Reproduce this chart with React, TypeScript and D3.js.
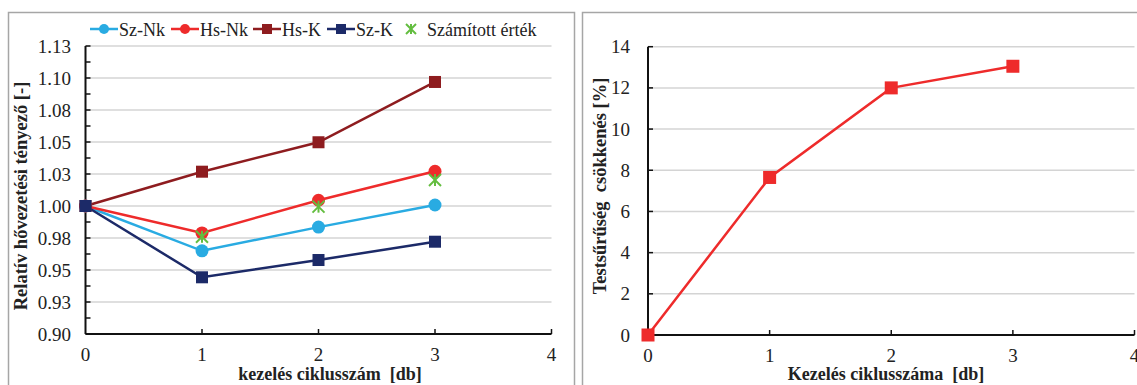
import * as d3 from "d3";

// left chart: relative thermal conductivity
const cycles = [0, 1, 2, 3];
const szNk = [1.0, 0.965, 0.9835, 1.0008];
const hsNk = [1.0, 0.979, 1.0045, 1.0271];
const hsK = [1.0, 1.0268, 1.0498, 1.0969];
const szK = [1.0, 0.9443, 0.9578, 0.9721];
const calcCycles = [1, 2, 3];
const calcValues = [0.976, 0.9995, 1.0203];
const yTicksL = [0.9, 0.925, 0.95, 0.975, 1.0, 1.025, 1.05, 1.075, 1.1, 1.125];
const yTickLabelsL = ["0.90", "0.93", "0.95", "0.98", "1.00", "1.03", "1.05", "1.08", "1.10", "1.13"];
const xTicks = [0, 1, 2, 3, 4];

// right chart: density decrease
const densityDecrease = [0, 7.65, 12.0, 13.05];
const yTicksR = [0, 2, 4, 6, 8, 10, 12, 14];

const serif = "'Liberation Serif', 'Times New Roman', 'DejaVu Serif', serif";
const GRID = "#d4d4d4";
const FRAME = "#a6a6a6";
const INK = "#222";

const seriesL = [
  { name: "Sz-Nk", values: szNk, color: "#29abe2", marker: "circle" },
  { name: "Hs-Nk", values: hsNk, color: "#ee2b2b", marker: "circle" },
  { name: "Hs-K", values: hsK, color: "#8e1c1f", marker: "square" },
  { name: "Sz-K", values: szK, color: "#1c2a68", marker: "square" },
];
const calcName = "Számított érték";
const calcColor = "#63bd3f";

function Marker({ x, y, type, color, size }: { x: number; y: number; type: string; color: string; size: number }) {
  if (type === "circle") return <circle cx={x} cy={y} r={size / 2} fill={color} />;
  if (type === "square") return <rect x={x - size / 2} y={y - size / 2} width={size} height={size} fill={color} />;
  const h = size / 2;
  return (
    <g stroke={color} strokeWidth={2}>
      <line x1={x - h} y1={y - h} x2={x + h} y2={y + h} />
      <line x1={x - h} y1={y + h} x2={x + h} y2={y - h} />
      <line x1={x} y1={y - h} x2={x} y2={y + h} />
    </g>
  );
}

function Txt(props: any) {
  const { children, size = 19, bold = false, style, ...rest } = props;
  return (
    <text
      fill={INK}
      {...rest}
      style={{ fontFamily: serif, fontSize: size, fontWeight: bold ? "bold" : "normal", whiteSpace: "pre", ...style }}
    >
      {children}
    </text>
  );
}

function gridLines(ticks: number[], y: d3.ScaleLinear<number, number>, x0: number, x1: number) {
  return ticks
    .filter((t) => t !== ticks[0])
    .map((t) => <line key={"g" + t} x1={x0} x2={x1} y1={y(t)} y2={y(t)} stroke={GRID} strokeWidth={1.5} />);
}

function xAxis(ticks: number[], x: d3.ScaleLinear<number, number>, y0: number) {
  return (
    <g>
      <line x1={x(ticks[0])} x2={x(ticks[ticks.length - 1])} y1={y0} y2={y0} stroke="#111" strokeWidth={2} />
      {ticks.map((t) => (
        <g key={t}>
          {t !== 0 && <line x1={x(t)} x2={x(t)} y1={y0} y2={y0 - 5} stroke="#111" strokeWidth={1.5} />}
          <Txt x={x(t)} y={y0 + 27} textAnchor="middle">
            {t}
          </Txt>
        </g>
      ))}
    </g>
  );
}

function LeftChart() {
  const x = d3.scaleLinear().domain([0, 4]).range([85.5, 551.5]);
  const y = d3.scaleLinear().domain([0.9, 1.125]).range([334, 46]);
  const minor = d3.range(0.9125, 1.125, 0.025);
  const line = d3
    .line<number>()
    .x((_, i) => x(cycles[i]))
    .y((d) => y(d));
  const legendX = [90, 171, 253, 327];

  return (
    <g>
      <rect x={8.5} y={12.5} width={566} height={390} fill="none" stroke={FRAME} strokeWidth={1.5} />
      {gridLines(yTicksL, y, x(0), x(4))}
      {minor.map((v) => (
        <line key={v} x1={x(0)} x2={x(0) + 5} y1={y(v)} y2={y(v)} stroke="#111" strokeWidth={1.5} />
      ))}
      {yTicksL.map((v, i) => (
        <g key={v}>
          <line x1={x(0)} x2={x(0) + 5} y1={y(v)} y2={y(v)} stroke="#111" strokeWidth={1.5} />
          <Txt x={71} y={y(v) + 6.5} textAnchor="end">
            {yTickLabelsL[i]}
          </Txt>
        </g>
      ))}
      {xAxis(xTicks, x, y(0.9))}
      <line x1={x(0)} x2={x(0)} y1={y(1.125)} y2={y(0.9)} stroke="#111" strokeWidth={2} />
      {seriesL.map((s) => (
        <path key={s.name} d={line(s.values) || ""} fill="none" stroke={s.color} strokeWidth={2.5} />
      ))}
      {seriesL.map((s) => (
        <g key={s.name}>
          {s.values.map((v, i) => (
            <Marker key={i} x={x(cycles[i])} y={y(v)} type={s.marker} color={s.color} size={s.marker === "circle" ? 13 : 12} />
          ))}
        </g>
      ))}
      {calcValues.map((v, i) => (
        <Marker key={i} x={x(calcCycles[i])} y={y(v)} type="star" color={calcColor} size={12} />
      ))}
      {/* legend */}
      {seriesL.map((s, i) => (
        <g key={s.name}>
          <line x1={legendX[i]} x2={legendX[i] + 28} y1={29} y2={29} stroke={s.color} strokeWidth={2.5} />
          <Marker x={legendX[i] + 14} y={29} type={s.marker} color={s.color} size={10} />
          <Txt x={legendX[i] + 29} y={35.5} size={18}>
            {s.name}
          </Txt>
        </g>
      ))}
      <Marker x={411} y={29} type="star" color={calcColor} size={10} />
      <Txt x={427} y={35.5} size={18}>
        {calcName}
      </Txt>
      <Txt x={330} y={380} textAnchor="middle" size={18} bold>
        {"kezelés ciklusszám  [db]"}
      </Txt>
      <Txt transform={`translate(27,196) rotate(-90)`} textAnchor="middle" size={18.5} bold>
        Relatív hővezetési tényező [-]
      </Txt>
    </g>
  );
}

function RightChart() {
  const x = d3.scaleLinear().domain([0, 4]).range([648, 1134.5]);
  const y = d3.scaleLinear().domain([0, 14]).range([335, 46.7]);
  const line = d3
    .line<number>()
    .x((_, i) => x(cycles[i]))
    .y((d) => y(d));
  const red = "#ee2b2b";
  return (
    <g>
      <rect x={582.5} y={12.5} width={600} height={390} fill="none" stroke={FRAME} strokeWidth={1.5} />
      {gridLines(yTicksR, y, x(0), x(4))}
      {yTicksR.map((v) => (
        <g key={v}>
          <line x1={x(0)} x2={x(0) + 5} y1={y(v)} y2={y(v)} stroke="#111" strokeWidth={1.5} />
          <Txt x={630} y={y(v) + 6.5} textAnchor="end">
            {v}
          </Txt>
        </g>
      ))}
      {xAxis(xTicks, x, y(0))}
      <line x1={x(0)} x2={x(0)} y1={y(14)} y2={y(0)} stroke="#111" strokeWidth={2} />
      <path d={line(densityDecrease) || ""} fill="none" stroke={red} strokeWidth={2.5} />
      {densityDecrease.map((v, i) => (
        <Marker key={i} x={x(cycles[i])} y={y(v)} type="square" color={red} size={13} />
      ))}
      <Txt x={886} y={380} textAnchor="middle" size={18} bold>
        {"Kezelés ciklusszáma  [db]"}
      </Txt>
      <Txt transform={`translate(606,186) rotate(-90)`} textAnchor="middle" size={18.5} bold>
        {"Testsűrűség  csökkenés [%]"}
      </Txt>
    </g>
  );
}

export default function App() {
  return (
    <svg width={1137} height={385} style={{ position: "absolute", left: 0, top: 0, background: "#fff" }}>
      <LeftChart />
      <RightChart />
    </svg>
  );
}
